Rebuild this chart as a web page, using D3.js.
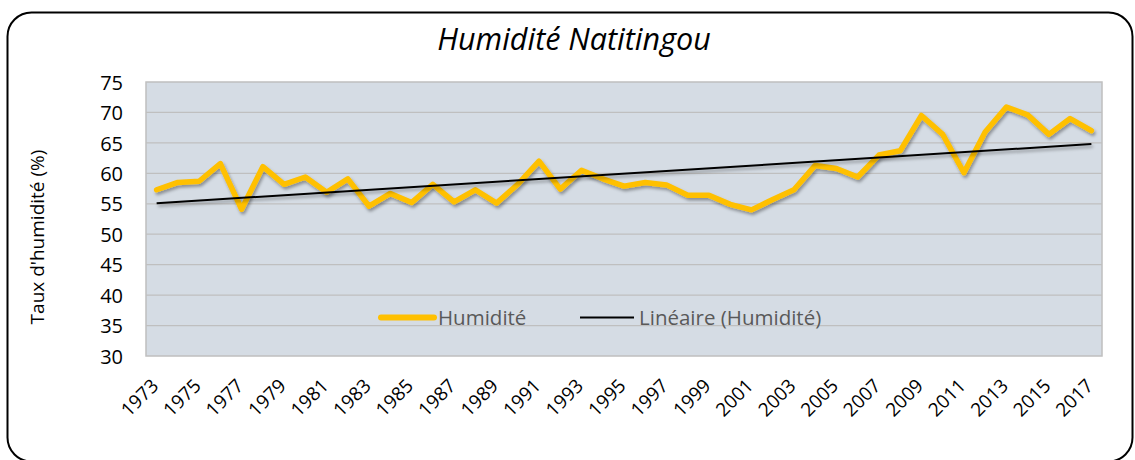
<!DOCTYPE html>
<html><head><meta charset="utf-8">
<script src="https://cdn.jsdelivr.net/npm/d3@7"></script>
<style>body{margin:0;background:#fff}svg{display:block}text{font-family:"Open Sans",sans-serif}</style>
</head><body>
<svg id="chart" width="1135" height="460"></svg>
<script>
const years = [1973,1974,1975,1976,1977,1978,1979,1980,1981,1982,1983,1984,1985,1986,1987,1988,1989,1990,1991,1992,1993,1994,1995,1996,1997,1998,1999,2000,2001,2002,2003,2004,2005,2006,2007,2008,2009,2010,2011,2012,2013,2014,2015,2016,2017];
const humidity = [57.3,58.5,58.7,61.6,54.1,61.1,58.2,59.4,56.9,59.1,54.6,56.7,55.2,58.2,55.3,57.3,55.1,58.2,62.0,57.4,60.5,59.1,57.9,58.5,58.1,56.4,56.4,54.9,54.0,55.7,57.3,61.3,60.8,59.4,63.0,63.7,69.5,66.4,60.1,66.8,70.9,69.6,66.4,69.0,67.0];
const yTicks = [30,35,40,45,50,55,60,65,70,75];
const xTickLabels = years.filter((y,i)=>i%2===0);
const title = "Humidité Natitingou";
const yTitle = "Taux d'humidité (%)";
const legendLabels = ["Humidité","Linéaire (Humidité)"];

const svg = d3.select("#chart");
const L = 146, R = 1102, T = 82, B = 356;

// outer frame
svg.append("rect").attr("x",7.5).attr("y",12.5).attr("width",1125).attr("height",449)
  .attr("rx",24).attr("fill","#fff").attr("stroke","#000").attr("stroke-width",2);

const defs = svg.append("defs");
const f = defs.append("filter").attr("id","sh").attr("x","-10%").attr("y","-20%").attr("width","130%").attr("height","150%");
f.append("feDropShadow").attr("dx",1.5).attr("dy",2.5).attr("stdDeviation",1.8).attr("flood-color","#000").attr("flood-opacity",0.35);

const x = d3.scaleBand().domain(years).range([L,R]);
const y = d3.scaleLinear().domain([30,75]).range([B,T]);

svg.append("rect").attr("x",L).attr("y",T).attr("width",R-L).attr("height",B-T)
  .attr("fill","#D5DCE4").attr("stroke","#BFBFBF").attr("stroke-width",1.5);

// grid
svg.append("g").selectAll("line").data(yTicks.filter(t=>t>30 && t<75)).join("line")
  .attr("x1",L).attr("x2",R).attr("y1",d=>y(d)).attr("y2",d=>y(d))
  .attr("stroke","#BFBFBF").attr("stroke-width",1.3);

// y axis labels
const yAxis = d3.axisLeft(y).tickValues(yTicks).tickSize(0).tickPadding(0);
const gy = svg.append("g").attr("transform",`translate(${L-23},0)`).call(yAxis);
gy.select(".domain").remove();
gy.selectAll("text").attr("font-size",20).attr("fill","#000").attr("font-family","Open Sans").attr("dy","0.36em");

// x axis labels
const xAxis = d3.axisBottom(x).tickValues(xTickLabels).tickSize(0).tickPadding(0);
const gx = svg.append("g").attr("transform",`translate(0,${B})`).call(xAxis);
gx.select(".domain").remove();
gx.selectAll("text").attr("font-size",19).attr("fill","#000").attr("font-family","Open Sans")
  .attr("text-anchor","end").attr("dy",0).attr("y",0)
  .attr("transform","translate(3,31) rotate(-45)");

// data line
const cx = d => x(d) + x.bandwidth()/2;
const line = d3.line().x((d,i)=>cx(years[i])).y(d=>y(d));
svg.append("path").datum(humidity).attr("d",line).attr("fill","none")
  .attr("stroke","#FFC000").attr("stroke-width",5.5).attr("stroke-linejoin","round").attr("stroke-linecap","round")
  .attr("filter","url(#sh)");

// linear trend (least squares)
const n = humidity.length;
const xs = d3.range(n);
const mx = d3.mean(xs), my = d3.mean(humidity);
const slope = d3.sum(xs,(v,i)=>(v-mx)*(humidity[i]-my))/d3.sum(xs,v=>(v-mx)*(v-mx));
const icpt = my - slope*mx;
const trend = [icpt, icpt + slope*(n-1)];
svg.append("line").attr("x1",cx(years[0])).attr("x2",cx(years[n-1]))
  .attr("y1",y(trend[0])).attr("y2",y(trend[1]))
  .attr("stroke","#000").attr("stroke-width",2).attr("filter","url(#sh)");

// legend
const lg = svg.append("g");
lg.append("line").attr("x1",381).attr("x2",434).attr("y1",317.5).attr("y2",317.5)
  .attr("stroke","#FFC000").attr("stroke-width",6).attr("stroke-linecap","round");
lg.append("text").attr("x",438).attr("y",325).attr("font-size",20.5).attr("fill","#595959").text(legendLabels[0]);
lg.append("line").attr("x1",580).attr("x2",634).attr("y1",317.5).attr("y2",317.5)
  .attr("stroke","#000").attr("stroke-width",2);
lg.append("text").attr("x",639).attr("y",325).attr("font-size",20.5).attr("fill","#595959").text(legendLabels[1]);

// title
svg.append("text").attr("x",574).attr("y",50).attr("text-anchor","middle")
  .attr("font-size",30.5).attr("font-style","italic").attr("fill","#000").text(title);

// y title
svg.append("text").attr("transform","translate(44,237) rotate(-90)").attr("text-anchor","middle")
  .attr("font-size",19).attr("fill","#000").text(yTitle);
</script>
</body></html>
